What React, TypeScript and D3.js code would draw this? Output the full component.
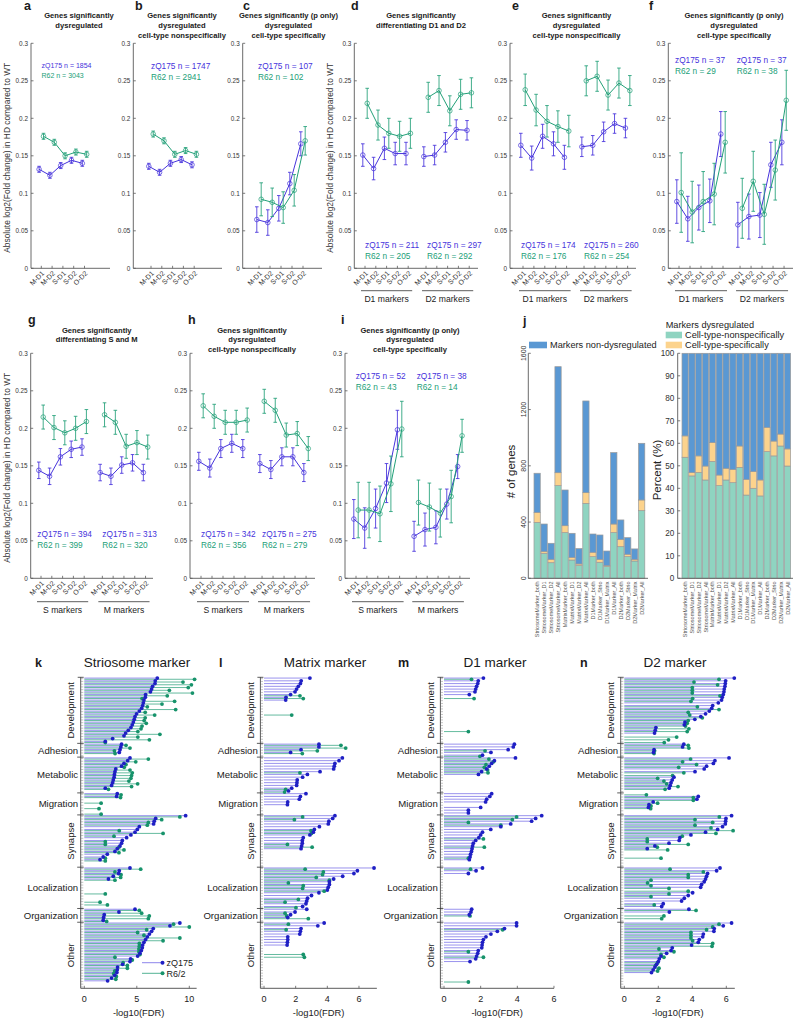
import React from "react";
import * as d3 from "d3";

const FONT = "'Liberation Sans', Arial, Helvetica, sans-serif";
const ZQ = "#4633dc";
const R6 = "#22a078";
const AX = "#5a5a5a";
const TXT = "#1a1a1a";

const categories = ["M-D1", "M-D2", "S-D1", "S-D2", "O-D2"];
const yTickVals = [0, 0.05, 0.1, 0.15, 0.2, 0.25, 0.3];

// ---------- panels a-i (mean |log2FC| and error) ----------
const aZq = [0.132, 0.124, 0.137, 0.144, 0.14];
const aZqErr = [0.004, 0.004, 0.004, 0.004, 0.004];
const aR6 = [0.176, 0.168, 0.15, 0.155, 0.152];
const aR6Err = [0.004, 0.004, 0.004, 0.004, 0.004];
const aN = [[1854, 3043]];

const bZq = [0.136, 0.128, 0.14, 0.145, 0.138];
const bZqErr = [0.004, 0.004, 0.004, 0.004, 0.004];
const bR6 = [0.179, 0.17, 0.152, 0.157, 0.152];
const bR6Err = [0.004, 0.004, 0.004, 0.004, 0.004];
const bN = [[1747, 2941]];

const cZq = [0.065, 0.061, 0.08, 0.113, 0.166];
const cZqErr = [0.017, 0.017, 0.017, 0.015, 0.016];
const cR6 = [0.092, 0.088, 0.081, 0.104, 0.17];
const cR6Err = [0.022, 0.019, 0.021, 0.021, 0.019];
const cN = [[107, 102]];

const dZq = [0.151, 0.133, 0.16, 0.153, 0.153, 0.149, 0.151, 0.168, 0.185, 0.184];
const dZqErr = [0.015, 0.015, 0.015, 0.015, 0.015, 0.013, 0.013, 0.013, 0.013, 0.013];
const dR6 = [0.22, 0.191, 0.18, 0.176, 0.18, 0.228, 0.237, 0.21, 0.232, 0.234];
const dR6Err = [0.02, 0.02, 0.02, 0.02, 0.02, 0.02, 0.02, 0.02, 0.02, 0.02];
const dN = [[211, 205], [297, 292]];

const eZq = [0.164, 0.147, 0.176, 0.166, 0.148, 0.162, 0.164, 0.182, 0.193, 0.187];
const eZqErr = [0.016, 0.016, 0.016, 0.016, 0.016, 0.013, 0.013, 0.013, 0.013, 0.013];
const eR6 = [0.238, 0.211, 0.196, 0.189, 0.183, 0.25, 0.256, 0.231, 0.247, 0.237];
const eR6Err = [0.021, 0.021, 0.021, 0.021, 0.021, 0.02, 0.02, 0.02, 0.02, 0.02];
const eN = [[174, 176], [260, 254]];

const fZq = [0.089, 0.066, 0.081, 0.09, 0.179, 0.058, 0.069, 0.071, 0.138, 0.168];
const fZqErr = [0.029, 0.03, 0.03, 0.029, 0.03, 0.03, 0.03, 0.03, 0.03, 0.03];
const fR6 = [0.101, 0.075, 0.089, 0.099, 0.168, 0.08, 0.116, 0.072, 0.131, 0.224];
const fR6Err = [0.053, 0.041, 0.04, 0.041, 0.041, 0.04, 0.04, 0.04, 0.04, 0.04];
const fN = [[37, 29], [37, 38]];

const gZq = [0.144, 0.136, 0.162, 0.172, 0.175, 0.141, 0.136, 0.151, 0.154, 0.141];
const gZqErr = [0.011, 0.011, 0.011, 0.011, 0.011, 0.011, 0.011, 0.011, 0.011, 0.011];
const gR6 = [0.215, 0.201, 0.194, 0.2, 0.209, 0.218, 0.208, 0.176, 0.181, 0.175];
const gR6Err = [0.016, 0.016, 0.016, 0.016, 0.016, 0.016, 0.016, 0.016, 0.016, 0.016];
const gN = [[394, 399], [313, 320]];

const hZq = [0.156, 0.147, 0.173, 0.18, 0.173, 0.153, 0.145, 0.162, 0.162, 0.141];
const hZqErr = [0.012, 0.012, 0.012, 0.012, 0.012, 0.012, 0.012, 0.012, 0.012, 0.012];
const hR6 = [0.23, 0.216, 0.208, 0.208, 0.211, 0.236, 0.224, 0.191, 0.193, 0.173];
const hR6Err = [0.016, 0.016, 0.016, 0.016, 0.016, 0.016, 0.016, 0.016, 0.016, 0.016];
const hN = [[342, 356], [275, 279]];

const iZq = [0.079, 0.067, 0.093, 0.127, 0.198, 0.056, 0.065, 0.068, 0.099, 0.149];
const iZqErr = [0.026, 0.027, 0.026, 0.026, 0.026, 0.02, 0.022, 0.022, 0.02, 0.016];
const iR6 = [0.091, 0.091, 0.086, 0.126, 0.199, 0.101, 0.095, 0.087, 0.109, 0.19];
const iR6Err = [0.037, 0.037, 0.037, 0.037, 0.037, 0.03, 0.032, 0.032, 0.035, 0.022];
const iN = [[52, 43], [38, 14]];

// ---------- panel j ----------
const jCats = [
  "StriosomeMarker_both", "StriosomeMarker_D1", "StriosomeMarker_D2", "StriosomeMarker_All",
  "MatrixMarker_both", "MatrixMarker_D1", "MatrixMarker_D2", "MatrixMarker_All",
  "D1Marker_both", "D1Marker_Strio", "D1Marker_Matrix", "D1Marker_All",
  "D2Marker_both", "D2Marker_Strio", "D2Marker_Matrix", "D2Marker_All",
];
const jNonspec = [398, 178, 111, 659, 325, 130, 90, 533, 154, 114, 83, 325, 225, 154, 123, 481];
const jSpec = [71, 12, 24, 92, 49, 19, 12, 76, 31, 21, 7, 61, 52, 17, 12, 76];
const jNondys = [278, 196, 114, 754, 254, 171, 109, 652, 130, 173, 104, 508, 138, 118, 74, 403];
const jPctNonspec = [53.8, 45.5, 47, 43.7, 51.9, 41.2, 43.7, 42.5, 49.3, 37, 40, 36.6, 56.3, 54.4, 58.8, 49.9];
const jPctSpec = [9.5, 1.5, 7.4, 6.2, 8.4, 4.7, 5.2, 5.9, 9.5, 7, 7.4, 7.1, 10.8, 6.6, 5.3, 7.6];
const jCountTicks = [0, 400, 800, 1200, 1600];
const jPctTicks = [0, 10, 20, 30, 40, 50, 60, 70, 80, 90, 100];

// ---------- panels k-n ----------
const goGroups = ["Development", "Adhesion", "Metabolic", "Migration", "Synapse", "Localization", "Organization", "Other"];
const goGroupRows = [24, 5, 13, 8, 19, 15, 5, 24];
const goVertical = [true, false, false, false, true, false, false, true];

const kZq = [
  6.95, 6.76, 6.73, 6.5, 6.41, 6.3, 5.84, 5.81, 5.68, 5.62, 5.56, 5.46, 5.24, 4.98, 4.83, 4.76, 4.67, 4.57, 4.44, 4.19, 3.94, 3.78, 2.7, 2.0,
  3.55, 3.48, 3.4, 3.33, 0,
  4.35, 4.13, 3.78, 3.55, 3.0, 2.92, 2.87, 2.84, 2.76, 2.7, 2.6, 2.0, 0,
  3.14, 3.08, 0, 0, 0, 0, 0, 0,
  9.65, 6.8, 6.66, 6.6, 5.24, 5.05, 4.83, 4.44, 4.03, 3.62, 3.55, 3.4, 3.14, 2.92, 2.19, 1.8, 1.5, 0, 0,
  4.35, 3.33, 3.27, 2.76, 2.3, 0, 0, 0, 0, 0, 0, 0, 0, 0, 0,
  4.83, 3.3, 1.9, 1.84, 1.8,
  9.1, 8.16, 6.57, 6.41, 6.2, 6.0, 5.84, 5.68, 5.56, 5.52, 5.43, 5.3, 5.08, 4.41, 4.35, 3.65, 3.17, 3.14, 3.1, 2.9, 2.6, 2.22, 0, 0,
];
const kR6 = [
  10.5, 9.4, 10.2, 9.9, 8.1, 10.3, 7.9, 5.5, 8.6, 7.4, 6.0, 8.7, 5.8, 6.7, 5.8, 5.7, 5.9, 5.5, 5.4, 5.1, 7.2, 5.1, 6.2, 2.0,
  3.97, 4.35, 2.87, 2.93, 0,
  6.1, 4.9, 3.97, 3.8, 4.35, 4.57, 4.5, 4.44, 4.25, 5.08, 4.5, 2.3, 0,
  3.5, 3.45, 0, 1.6, 0, 1.4, 0, 1.6,
  9.1, 7.37, 6.1, 6.0, 0, 3.33, 7.5, 2.83, 0, 2.0, 2.0, 3.3, 3.78, 3.3, 0, 2.0, 2.0, 0, 0,
  5.37, 2.92, 3.5, 3.46, 2.92, 0, 0, 0, 0, 2.0, 0, 0, 1.5, 2.2, 0,
  5.24, 5.46, 6.19, 6.1, 2.13,
  8.5, 10.0, 5.94, 5.08, 5.68, 9.1, 7.5, 5.24, 5.24, 5.2, 5.2, 5.3, 2.92, 4.57, 3.7, 4.1, 4.1, 2.9, 2.8, 3.05, 3.0, 0, 0, 0,
];
const lZq = [
  2.9, 2.35, 2.3, 2.17, 2.06, 1.96, 1.68, 1.39, 1.37, 0, 0, 0, 0, 0, 0, 0, 0, 0, 0, 0, 0, 0, 0, 0,
  3.47, 3.47, 2.34, 1.68, 0,
  4.95, 4.74, 4.48, 4.44, 4.4, 3.54, 2.74, 2.44, 2.1, 2.08, 2.06, 1.75, 1.55,
  2.65, 2.3, 2.23, 1.5, 1.48, 0, 0, 0,
  4.48, 4.34, 4.1, 4.06, 3.5, 3.18, 3.12, 2.9, 2.48, 2.42, 2.42, 2.38, 2.34, 0, 0, 0, 0, 0, 0,
  6.95, 5.9, 5.68, 4.97, 4.4, 4.13, 4.13, 4.06, 4.0, 3.47, 3.0, 2.75, 2.7, 2.65, 2.44,
  2.7, 1.96, 1.68, 1.5, 0,
  3.8, 3.4, 2.34, 2.3, 2.26, 1.5, 1.5, 1.48, 1.46, 0, 0, 0, 0, 0, 0, 0, 0, 0, 0, 0, 0, 0, 0, 0,
];
const lR6 = [
  0, 0, 0, 0, 0, 0, 2.27, 2.48, 0, 0, 0, 0, 0, 1.75, 0, 0, 0, 0, 0, 0, 0, 0, 0, 0,
  4.86, 5.16, 3.37, 2.42, 0,
  0, 0, 0, 0, 0, 2.27, 0, 0, 0, 0, 0, 1.37, 1.3,
  0, 0, 0, 0, 0, 0, 0, 0,
  2.44, 1.92, 0, 0, 0, 2.97, 3.0, 0, 0, 0, 1.48, 3.04, 0, 0, 0, 0, 0, 0, 0,
  2.6, 3.75, 3.7, 3.3, 4.13, 1.54, 2.48, 2.44, 3.8, 0, 0, 2.17, 1.33, 0, 2.02,
  0, 1.33, 1.43, 2.8, 0,
  1.54, 0, 1.4, 0, 0, 0, 0, 0, 0, 0, 0, 2.48, 2.55, 0, 0, 0, 0, 0, 0, 0, 0, 0, 0, 0,
];
const mZq = [
  2.15, 1.87, 1.84, 1.78, 1.73, 1.69, 1.38, 0, 0, 0, 0, 0, 0, 0, 0, 0, 0, 0, 0, 0, 0, 0, 0, 0,
  3.84, 3.78, 3.5, 2.56, 2.1,
  3.9, 2.75, 2.6, 2.47, 2.33, 2.05, 1.88, 0, 0, 0, 0, 0, 0,
  2.6, 2.5, 2.33, 2.27, 0, 2.0, 1.33, 1.33,
  5.33, 5.0, 4.78, 3.64, 3.1, 2.55, 2.1, 2.0, 1.9, 1.73, 1.6, 1.56, 1.53, 1.5, 1.45, 1.42, 1.38, 0, 0,
  2.1, 1.75, 1.33, 0, 0, 0, 0, 0, 0, 0, 0, 0, 0, 0, 0,
  1.51, 1.47, 1.38, 0, 0,
  3.96, 3.96, 3.3, 2.91, 2.56, 2.29, 2.15, 2.1, 2.08, 2.06, 1.87, 1.84, 1.78, 1.73, 1.42, 0, 0, 0, 0, 0, 0, 0, 0, 0,
];
const mR6 = [
  1.5, 0, 0, 0, 0, 0, 0, 1.64, 0, 0, 0, 0, 0, 0, 0, 0, 0, 0, 0, 1.33, 0, 0, 0, 0,
  0, 0, 2.24, 0, 1.96,
  2.45, 2.7, 2.29, 2.2, 2.38, 2.4, 0, 0, 0, 0, 0, 0, 0,
  0, 0, 0, 0, 0, 0, 0, 0,
  3.96, 3.73, 1.33, 3.1, 0, 0, 0, 0, 2.15, 0, 0, 2.2, 0, 0, 0, 1.33, 0, 0, 0,
  1.45, 0, 0, 0, 0, 0, 0, 0, 0, 0, 0, 0, 0, 0, 0,
  0, 0, 1.42, 0, 0,
  0, 0, 3.2, 0, 0, 0, 0, 0, 0, 0, 1.33, 0, 2.15, 0, 0, 0, 0, 0, 0, 0, 0, 1.33, 0, 0,
];
const nZq = [
  6.47, 5.96, 5.94, 5.92, 5.88, 5.86, 5.82, 5.76, 5.72, 5.53, 5.2, 5.14, 5.0, 4.78, 4.5, 4.15, 3.57, 3.53, 1.86, 1.82, 1.78, 0, 0, 0,
  3.5, 3.43, 1.75, 1.72, 0,
  6.16, 5.33, 5.24, 4.84, 4.7, 4.16, 0, 2.92, 2.82, 2.75, 2.7, 2.64, 0,
  0, 4.35, 4.27, 1.7, 1.45, 1.42, 0, 0,
  6.31, 5.98, 5.96, 5.94, 5.78, 5.49, 4.78, 3.92, 3.27, 3.23, 2.63, 1.8, 1.35, 0, 0, 0, 0, 0, 0,
  5.63, 5.43, 4.9, 4.84, 4.78, 4.7, 4.55, 4.49, 0, 4.02, 3.76, 3.53, 3.37, 2.29, 2.2,
  3.8, 2.65, 0, 0, 0,
  6.31, 5.82, 5.29, 5.27, 4.65, 4.61, 4.41, 4.35, 3.96, 2.82, 2.75, 2.49, 2.16, 2.06, 2.0, 1.9, 1.8, 1.7, 1.6, 0, 0, 0, 0, 0,
];
const nR6 = [
  5.57, 4.1, 5.49, 4.0, 4.0, 4.0, 5.63, 4.02, 3.92, 0, 4.3, 5.57, 3.76, 3.85, 4.59, 3.76, 3.7, 3.6, 3.8, 3.7, 0, 3.08, 2.6, 2.35,
  3.76, 3.8, 1.78, 1.75, 0,
  3.9, 3.43, 4.25, 3.2, 0, 3.5, 2.84, 1.96, 2.33, 2.49, 3.16, 2.4, 0,
  1.3, 4.06, 4.06, 1.96, 1.57, 1.55, 0, 0,
  5.59, 4.16, 5.2, 4.16, 5.1, 6.4, 5.39, 3.41, 1.35, 1.35, 3.76, 1.94, 2.55, 0, 0, 2.16, 0, 0, 0,
  2.69, 4.65, 3.76, 3.76, 1.57, 1.37, 1.57, 2.63, 3.76, 2.63, 1.57, 0, 0, 1.76, 0,
  4.22, 0, 2.33, 2.2, 0,
  5.57, 5.2, 4.84, 3.92, 3.92, 3.92, 4.02, 5.2, 5.16, 2.04, 2.92, 2.16, 2.33, 0, 1.96, 1.84, 2.04, 1.96, 0, 0, 0, 0, 0, 0,
];

const fmtTick = (v: number) => (v === 0 ? "0" : String(+v.toFixed(2)));

type LP = {
  letter: string; letterX: number; letterY: number;
  title: string[]; titleX: number; titleY: number; titleDy: number;
  y0: number; axisX: number; axisEnd: number; firstTick: number; unit: number; g2: number;
  zq: number[]; zqErr: number[]; r6: number[]; r6Err: number[];
  ns: number[][]; annY: number; annSize: number; annX: number[];
  groupNames?: string[]; groupLineY?: number; yLabel?: boolean;
};

function LinePanel(p: LP) {
  const y = d3.scaleLinear().domain([0, 0.3]).range([p.y0, p.y0 - 225]);
  const d0 = -(p.firstTick - p.axisX) / p.unit;
  const d1 = (p.axisEnd - p.firstTick) / p.unit;
  const x = d3.scaleLinear().domain([d0, d1]).range([p.axisX, p.axisEnd]);
  const nGroups = p.zq.length / 5;
  const pos = d3.range(p.zq.length).map((i) => (i % 5) + Math.floor(i / 5) * p.g2);
  const line = d3.line<[number, number]>().x((d) => d[0]).y((d) => d[1]);
  const series = [
    { vals: p.zq, errs: p.zqErr, color: ZQ, off: -2.2 },
    { vals: p.r6, errs: p.r6Err, color: R6, off: 2.2 },
  ];
  return (
    <g>
      <text x={p.letterX} y={p.letterY} fontSize={12.5} fontWeight="bold" fill={TXT}>{p.letter}</text>
      {p.title.map((t, i) => (
        <text key={i} x={p.titleX} y={p.titleY + i * p.titleDy} fontSize={7.6} fontWeight="bold" textAnchor="middle" fill={TXT}>{t}</text>
      ))}
      {p.yLabel && (
        <text transform={`translate(${p.axisX - 21},${y(0.15) + 2}) rotate(-90)`} fontSize={8.4} textAnchor="middle" fill="#333">
          Absolute log2(Fold change) in HD compared to WT
        </text>
      )}
      <line x1={p.axisX} x2={p.axisX} y1={y(0.3)} y2={y(0)} stroke={AX} strokeWidth={0.9} />
      <line x1={p.axisX} x2={p.axisEnd} y1={y(0)} y2={y(0)} stroke={AX} strokeWidth={0.9} />
      {yTickVals.map((v) => (
        <g key={v}>
          <line x1={p.axisX} x2={p.axisX + 2.5} y1={y(v)} y2={y(v)} stroke={AX} strokeWidth={0.8} />
          <text x={p.axisX - 3} y={y(v) + 2.3} fontSize={6.4} textAnchor="end" fill="#333">{fmtTick(v)}</text>
        </g>
      ))}
      {pos.map((ps, i) => (
        <g key={i}>
          <line x1={x(ps)} x2={x(ps)} y1={y(0)} y2={y(0) - 2.5} stroke={AX} strokeWidth={0.8} />
          <text transform={`translate(${x(ps) + 3.5},${y(0) + 5.5}) rotate(-45)`} fontSize={7} textAnchor="end" fill="#333">
            {categories[i % 5]}
          </text>
        </g>
      ))}
      {series.map((s, si) => (
        <g key={si}>
          {d3.range(nGroups).map((g) => {
            const pts: [number, number][] = d3.range(5).map((k) => [x(pos[g * 5 + k]) + s.off, y(s.vals[g * 5 + k])]);
            return <path key={g} d={line(pts) || ""} fill="none" stroke={s.color} strokeWidth={1} />;
          })}
          {s.vals.map((v, i) => {
            const cx = x(pos[i]) + s.off;
            const e = s.errs[i];
            return (
              <g key={i} stroke={s.color} strokeOpacity={0.85} strokeWidth={1}>
                <line x1={cx} x2={cx} y1={y(v - e)} y2={y(v + e)} />
                <line x1={cx - 1.8} x2={cx + 1.8} y1={y(v - e)} y2={y(v - e)} />
                <line x1={cx - 1.8} x2={cx + 1.8} y1={y(v + e)} y2={y(v + e)} />
                <circle cx={cx} cy={y(v)} r={2.3} fill="none" strokeOpacity={0.7} />
              </g>
            );
          })}
        </g>
      ))}
      {p.ns.map((n, g) => (
        <g key={g} fontSize={p.annSize}>
          <text x={p.annX[g]} y={p.annY} fill={ZQ}>{`zQ175 n = ${n[0]}`}</text>
          <text x={p.annX[g]} y={p.annY + p.annSize * 1.38} fill={R6}>{`R62 n = ${n[1]}`}</text>
        </g>
      ))}
      {p.groupNames &&
        p.groupNames.map((gn, g) => {
          const xa = x(g * p.g2) - 4;
          const xb = x(g * p.g2 + 4) + 4;
          return (
            <g key={gn}>
              <line x1={xa} x2={xb} y1={p.groupLineY} y2={p.groupLineY} stroke="#333" strokeWidth={0.8} />
              <text x={(xa + xb) / 2} y={(p.groupLineY || 0) + 11.5} fontSize={8.6} textAnchor="middle" fill="#222">{gn}</text>
            </g>
          );
        })}
    </g>
  );
}

const BLUE_BAR = "#5a98d3";
const GREEN_BAR = "#8fd4c1";
const ORANGE_BAR = "#fcd38d";

function BarPanels() {
  const yC = d3.scaleLinear().domain([0, 1600]).range([578.3, 353.3]);
  const yP = d3.scaleLinear().domain([0, 100]).range([578.3, 353.3]);
  const xC = d3.scaleBand<string>().domain(jCats).range([534, 644.8]).paddingInner(0.1);
  const xP = d3.scaleBand<string>().domain(jCats).range([682, 790.6]).paddingInner(0.1);
  const rowsC = jCats.map((c, i) => ({ cat: c, nonspec: jNonspec[i], spec: jSpec[i], nondys: jNondys[i] }));
  const rowsP = jCats.map((c, i) => ({ cat: c, nonspec: jPctNonspec[i], spec: jPctSpec[i], nondys: 100 - jPctNonspec[i] - jPctSpec[i] }));
  const keys = ["nonspec", "spec", "nondys"];
  const colors: Record<string, string> = { nonspec: GREEN_BAR, spec: ORANGE_BAR, nondys: BLUE_BAR };
  const stC = d3.stack<any>().keys(keys)(rowsC);
  const stP = d3.stack<any>().keys(keys)(rowsP);
  return (
    <g>
      <text x={523} y={325} fontSize={12.5} fontWeight="bold" fill={TXT}>j</text>
      {stC.map((layer) => layer.map((d, i) => (
        <rect key={layer.key + i} x={xC(jCats[i])} width={xC.bandwidth()} y={yC(d[1])} height={yC(d[0]) - yC(d[1])}
          fill={colors[layer.key]} stroke="#9a9a9a" strokeWidth={0.7} />
      )))}
      <line x1={528.3} x2={528.3} y1={353.3} y2={578.3} stroke={AX} strokeWidth={0.9} />
      <line x1={528.3} x2={648} y1={578.3} y2={578.3} stroke={AX} strokeWidth={0.9} />
      {jCountTicks.map((v) => (
        <g key={v}>
          <line x1={528.3} x2={530.8} y1={yC(v)} y2={yC(v)} stroke={AX} strokeWidth={0.8} />
          <text transform={`translate(${525.8},${yC(v)}) rotate(-90)`} fontSize={7} textAnchor="middle" fill="#333">{v}</text>
        </g>
      ))}
      <text transform={`translate(514.5,471.5) rotate(-90)`} fontSize={11.5} textAnchor="middle" fill="#222"># of genes</text>
      {jCats.map((c) => (
        <text key={c} transform={`translate(${(xC(c) || 0) + xC.bandwidth() / 2 + 2},581.5) rotate(-90)`} fontSize={5.5} textAnchor="end" fill="#555">{c}</text>
      ))}
      {stP.map((layer) => layer.map((d, i) => (
        <rect key={layer.key + i} x={xP(jCats[i])} width={xP.bandwidth()} y={yP(d[1])} height={yP(d[0]) - yP(d[1])}
          fill={colors[layer.key]} stroke="#9a9a9a" strokeWidth={0.7} />
      )))}
      <line x1={677.7} x2={677.7} y1={353.3} y2={578.3} stroke={AX} strokeWidth={0.9} />
      <line x1={677.7} x2={793} y1={578.3} y2={578.3} stroke={AX} strokeWidth={0.9} />
      {jPctTicks.map((v) => (
        <g key={v}>
          <line x1={677.7} x2={680.2} y1={yP(v)} y2={yP(v)} stroke={AX} strokeWidth={0.8} />
          <text x={674.3} y={yP(v) + 2.9} fontSize={8.2} textAnchor="end" fill="#333">{v}</text>
        </g>
      ))}
      <text transform={`translate(661,470) rotate(-90)`} fontSize={11.5} textAnchor="middle" fill="#222">Percent (%)</text>
      {jCats.map((c) => (
        <text key={c} transform={`translate(${(xP(c) || 0) + xP.bandwidth() / 2 + 2},581.5) rotate(-90)`} fontSize={5.5} textAnchor="end" fill="#555">{c}</text>
      ))}
      <rect x={529} y={341.7} width={18} height={6.6} fill={BLUE_BAR} />
      <text x={550} y={348.3} fontSize={9.2} fill="#222">Markers non-dysregulated</text>
      <text x={665.7} y={328.3} fontSize={9.2} fill="#222">Markers dysregulated</text>
      <rect x={665.7} y={331.7} width={16.3} height={6.6} fill={GREEN_BAR} />
      <text x={685} y={338.4} fontSize={9.2} fill="#222">Cell-type-nonspecifically</text>
      <rect x={665.7} y={341.7} width={16.3} height={6.6} fill={ORANGE_BAR} />
      <text x={685} y={348.4} fontSize={9.2} fill="#222">Cell-type-specifically</text>
    </g>
  );
}

type LL = {
  letter: string; letterX: number; title: string; titleX: number;
  x0: number; unit: number; xMax: number; ticks: number[];
  zq: number[]; r6: number[]; legend?: boolean;
};

const STEM_ZQ = "rgba(88,76,226,0.68)";
const STEM_R6 = "rgba(34,158,118,0.78)";
const DOT_ZQ = "#1f1fc4";
const DOT_R6 = "#17936b";

function Lollipop(p: LL) {
  const top = 677.3;
  const bottom = 988.3;
  const nRows = d3.sum(goGroupRows);
  const y = d3.scaleLinear().domain([0, nRows]).range([top, bottom]);
  const x = d3.scaleLinear().domain([0, p.xMax]).range([p.x0, p.x0 + p.xMax * p.unit]);
  const axisX = p.x0 - 3.6;
  const ends = Array.from(d3.cumsum(goGroupRows));
  const starts = [0, ...ends.slice(0, -1)];
  return (
    <g>
      <text x={p.letterX} y={666.5} fontSize={12.5} fontWeight="bold" fill={TXT}>{p.letter}</text>
      <text x={p.titleX} y={666.5} fontSize={13.5} textAnchor="middle" fill={TXT}>{p.title}</text>
      {d3.range(nRows).map((r) => (
        <line key={r} x1={axisX} x2={axisX + 2.6} y1={y(r + 0.5)} y2={y(r + 0.5)} stroke="#8a8a8a" strokeWidth={0.5} />
      ))}
      {p.r6.map((v, r) => v > 0 && (
        <line key={"g" + r} x1={x(0)} x2={x(v)} y1={y(r + 0.5) + 0.6} y2={y(r + 0.5) + 0.6} stroke={STEM_R6} strokeWidth={0.9} />
      ))}
      {p.zq.map((v, r) => v > 0 && (
        <line key={"b" + r} x1={x(0)} x2={x(v)} y1={y(r + 0.5) - 0.6} y2={y(r + 0.5) - 0.6} stroke={STEM_ZQ} strokeWidth={0.9} />
      ))}
      {p.r6.map((v, r) => v > 0 && (
        <circle key={"gc" + r} cx={x(v)} cy={y(r + 0.5) + 0.6} r={1.9} fill={DOT_R6} />
      ))}
      {p.zq.map((v, r) => v > 0 && (
        <circle key={"bc" + r} cx={x(v)} cy={y(r + 0.5) - 0.6} r={1.9} fill={DOT_ZQ} />
      ))}
      <line x1={axisX} x2={axisX} y1={top} y2={bottom} stroke={AX} strokeWidth={1} />
      <line x1={axisX} x2={x(p.xMax)} y1={bottom} y2={bottom} stroke={AX} strokeWidth={1} />
      <line x1={axisX - 3} x2={axisX + 3} y1={top} y2={top} stroke="#333" strokeWidth={0.8} />
      {ends.slice(0, -1).map((e) => (
        <line key={e} x1={axisX - 3.5} x2={axisX + 3} y1={y(e)} y2={y(e)} stroke="#333" strokeWidth={0.8} />
      ))}
      {goGroups.map((gname, gi) => {
        const cy = y((starts[gi] + ends[gi]) / 2);
        return goVertical[gi] ? (
          <text key={gname} transform={`translate(${axisX - 6.3},${cy}) rotate(-90)`} fontSize={9.6} textAnchor="middle" fill={TXT}>{gname}</text>
        ) : (
          <text key={gname} x={axisX - 2.6} y={cy + 3.3} fontSize={9.6} textAnchor="end" fill={TXT}>{gname}</text>
        );
      })}
      {p.ticks.map((t) => (
        <g key={t}>
          <line x1={x(t)} x2={x(t)} y1={bottom} y2={bottom - 2.5} stroke={AX} strokeWidth={0.8} />
          <text x={x(t)} y={1001.5} fontSize={9} textAnchor="middle" fill="#222">{t}</text>
        </g>
      ))}
      <text x={(axisX + x(p.xMax)) / 2} y={1015.5} fontSize={9.4} textAnchor="middle" fill="#222">-log10(FDR)</text>
      {p.legend && (
        <g>
          <line x1={142} x2={161} y1={962.7} y2={962.7} stroke={STEM_ZQ} strokeWidth={1} />
          <circle cx={162.5} cy={962.7} r={2} fill={DOT_ZQ} />
          <text x={166.5} y={966} fontSize={9} fill="#222">zQ175</text>
          <line x1={142} x2={161} y1={973.3} y2={973.3} stroke={STEM_R6} strokeWidth={1} />
          <circle cx={162.5} cy={973.3} r={2} fill={DOT_R6} />
          <text x={166.5} y={976.6} fontSize={9} fill="#222">R6/2</text>
        </g>
      )}
    </g>
  );
}

export default function App() {
  const t1 = { titleY: 18, titleDy: 10, y0: 268.3 };
  const t2 = { titleY: 333, titleDy: 9.4, y0: 578.3 };
  return (
    <svg width={793} height={1019} style={{ position: "absolute", left: 0, top: 0, background: "#fff" }} fontFamily={FONT}>
      <rect width={793} height={1019} fill="#fff" />
      <LinePanel letter="a" letterX={24} letterY={10} title={["Genes significantly", "dysregulated"]} titleX={79} {...t1}
        axisX={31} axisEnd={110} firstTick={41.3} unit={10.8} g2={0}
        zq={aZq} zqErr={aZqErr} r6={aR6} r6Err={aR6Err} ns={aN} annX={[41.5]} annY={68} annSize={7} yLabel />
      <LinePanel letter="b" letterX={135} letterY={10} title={["Genes significantly", "dysregulated", "cell-type nonspecifically"]} titleX={182} {...t1}
        axisX={133.3} axisEnd={222} firstTick={151} unit={10.8} g2={0}
        zq={bZq} zqErr={bZqErr} r6={bR6} r6Err={bR6Err} ns={bN} annX={[151]} annY={68.5} annSize={8.3} />
      <LinePanel letter="c" letterX={243} letterY={10} title={["Genes significantly (p only)", "dysregulated", "cell-type specifically"]} titleX={288.5} {...t1}
        axisX={242.7} axisEnd={322} firstTick={259} unit={11} g2={0}
        zq={cZq} zqErr={cZqErr} r6={cR6} r6Err={cR6Err} ns={cN} annX={[258]} annY={68.5} annSize={8.3} />
      <LinePanel letter="d" letterX={351} letterY={10} title={["Genes significantly", "differentiating D1 and D2"]} titleX={421} {...t1}
        axisX={354.3} axisEnd={478} firstTick={365} unit={10.8} g2={5.65}
        zq={dZq} zqErr={dZqErr} r6={dR6} r6Err={dR6Err} ns={dN} annX={[365, 427]} annY={248} annSize={8.3}
        groupNames={["D1 markers", "D2 markers"]} groupLineY={290.7} yLabel />
      <LinePanel letter="e" letterX={512} letterY={10} title={["Genes significantly", "dysregulated", "cell-type nonspecifically"]} titleX={576.5} {...t1}
        axisX={510} axisEnd={636} firstTick={523} unit={10.9} g2={5.6}
        zq={eZq} zqErr={eZqErr} r6={eR6} r6Err={eR6Err} ns={eN} annX={[521, 584]} annY={248} annSize={8.3}
        groupNames={["D1 markers", "D2 markers"]} groupLineY={290.7} />
      <LinePanel letter="f" letterX={649} letterY={10} title={["Genes significantly (p only)", "dysregulated", "cell-type specifically"]} titleX={734} {...t1}
        axisX={668.3} axisEnd={793} firstTick={679} unit={11} g2={5.55}
        zq={fZq} zqErr={fZqErr} r6={fR6} r6Err={fR6Err} ns={fN} annX={[675, 736.7]} annY={63} annSize={8.3}
        groupNames={["D1 markers", "D2 markers"]} groupLineY={290.7} />
      <LinePanel letter="g" letterX={28} letterY={324} title={["Genes significantly", "differentiating S and M"]} titleX={96.7} {...t2}
        axisX={30.7} axisEnd={153} firstTick={41} unit={10.8} g2={5.68}
        zq={gZq} zqErr={gZqErr} r6={gR6} r6Err={gR6Err} ns={gN} annX={[37.3, 102.3]} annY={536.5} annSize={8.3}
        groupNames={["S markers", "M markers"]} groupLineY={601.7} yLabel />
      <LinePanel letter="h" letterX={188} letterY={324} title={["Genes significantly", "dysregulated", "cell-type nonspecifically"]} titleX={252} {...t2}
        axisX={190} axisEnd={315} firstTick={201} unit={11} g2={5.55}
        zq={hZq} zqErr={hZqErr} r6={hR6} r6Err={hR6Err} ns={hN} annX={[201, 262]} annY={536.5} annSize={8.3}
        groupNames={["S markers", "M markers"]} groupLineY={601.7} />
      <LinePanel letter="i" letterX={341} letterY={324} title={["Genes significantly (p only)", "dysregulated", "cell-type specifically"]} titleX={410} {...t2}
        axisX={345} axisEnd={470} firstTick={356} unit={10.9} g2={5.53}
        zq={iZq} zqErr={iZqErr} r6={iR6} r6Err={iR6Err} ns={iN} annX={[355.7, 416.7]} annY={379} annSize={8.3}
        groupNames={["S markers", "M markers"]} groupLineY={601.7} />
      <BarPanels />
      <Lollipop letter="k" letterX={35} title="Striosome marker" titleX={137} x0={84.3} unit={10.5} xMax={10.7} ticks={[0, 5, 10]} zq={kZq} r6={kR6} legend />
      <Lollipop letter="l" letterX={219} title="Matrix marker" titleX={325} x0={264} unit={15.83} xMax={7.13} ticks={[0, 2, 4, 6]} zq={lZq} r6={lR6} />
      <Lollipop letter="m" letterX={398} title="D1 marker" titleX={495} x0={444} unit={18.33} xMax={6} ticks={[0, 2, 4, 6]} zq={mZq} r6={mR6} />
      <Lollipop letter="n" letterX={580} title="D2 marker" titleX={675} x0={624.3} unit={17} xMax={6.5} ticks={[0, 2, 4, 6]} zq={nZq} r6={nR6} />
    </svg>
  );
}
